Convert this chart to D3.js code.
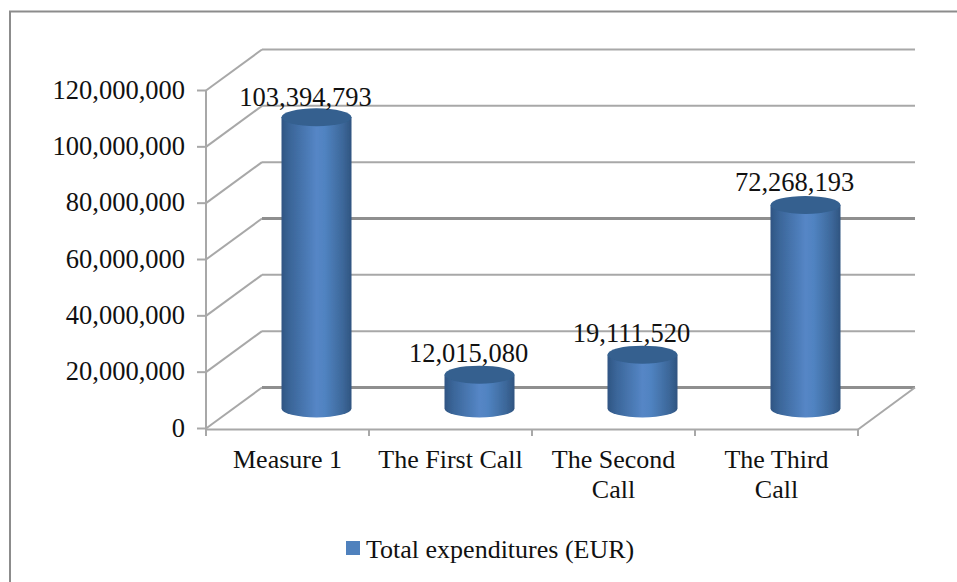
<!DOCTYPE html>
<html><head><meta charset="utf-8">
<script src="https://cdnjs.cloudflare.com/ajax/libs/d3/7.8.5/d3.min.js"></script>
<style>html,body{margin:0;padding:0;background:#fff}svg{display:block}text{font-family:"Liberation Serif",serif;fill:#111}</style>
</head><body><svg id="c" width="957" height="582"></svg>
<script>
const categories=[["Measure 1"],["The First Call"],["The Second","Call"],["The Third","Call"]];
const values=[103394793,12015080,19111520,72268193];
const valueLabels=["103,394,793","12,015,080","19,111,520","72,268,193"];
const ticks=[0,20000000,40000000,60000000,80000000,100000000,120000000];
const seriesName="Total expenditures (EUR)";

const W=957,H=582;
const svg=d3.select("#c");
const defs=svg.append("defs");
const g=defs.append("linearGradient").attr("id","cyl");
[[0,"#2f5583"],[.12,"#3a6598"],[.5,"#5586c6"],[.62,"#5083c1"],[.88,"#3c6799"],[1,"#2f5480"]].forEach(d=>g.append("stop").attr("offset",d[0]).attr("stop-color",d[1]));
defs.append("filter").attr("id","soft").append("feGaussianBlur").attr("stdDeviation",0.55);
defs.append("filter").attr("id","softT").append("feGaussianBlur").attr("stdDeviation",0.3);

const depthX=56,depthY=-41;
const y=d3.scaleLinear().domain([0,120000000]).range([428.5,90.5]);
const x=d3.scaleBand().domain(d3.range(categories.length)).range([206,858]);
const gridCol="#a8a8a8";

// chart frame
svg.append("path").attr("d",`M10,${H}V11.5H${W}`).attr("fill","none").attr("stroke","#8c8c8c").attr("stroke-width",2);

const p=svg.append("g").attr("filter","url(#soft)");
// back wall grid and side wall grid
ticks.forEach(t=>{
  const yy=y(t);
  p.append("line").attr("x1",206).attr("y1",yy).attr("x2",206+depthX).attr("y2",yy+depthY).attr("stroke",gridCol).attr("stroke-width",2);
  p.append("line").attr("x1",206+depthX).attr("y1",yy+depthY).attr("x2",858+depthX+1).attr("y2",yy+depthY)
   .attr("stroke",(t===0||t===60000000)?"#8f8f8f":gridCol).attr("stroke-width",(t===0||t===60000000)?3:2);
  p.append("line").attr("x1",197).attr("y1",yy).attr("x2",206).attr("y2",yy).attr("stroke",gridCol).attr("stroke-width",2);
});
// floor right edge, axes
p.append("line").attr("x1",858).attr("y1",429.5).attr("x2",858+depthX+1).attr("y2",y(0)+depthY).attr("stroke",gridCol).attr("stroke-width",2);
p.append("line").attr("x1",206).attr("y1",y(0)).attr("x2",206).attr("y2",y(120000000)).attr("stroke",gridCol).attr("stroke-width",2);
p.append("line").attr("x1",206).attr("y1",429.5).attr("x2",858).attr("y2",429.5).attr("stroke",gridCol).attr("stroke-width",2);
d3.range(categories.length+1).forEach(i=>{
  const xx=206+i*x.step();
  p.append("line").attr("x1",xx).attr("y1",429).attr("x2",xx).attr("y2",436).attr("stroke",gridCol).attr("stroke-width",2);
});

// cylinders
const rx=35,ry=9,baseDy=-20,cxOff=29;
const cyl=svg.append("g").attr("filter","url(#softT)");
values.forEach((v,i)=>{
  const cx=x(i)+x.bandwidth()/2+cxOff, by=y(0)+baseDy, ty=y(v)+baseDy;
  cyl.append("path").attr("fill","url(#cyl)")
   .attr("d",`M${cx-rx},${ty}V${by}A${rx},${ry} 0 0 0 ${cx+rx},${by}V${ty}Z`);
  cyl.append("ellipse").attr("cx",cx).attr("cy",ty).attr("rx",rx).attr("ry",ry).attr("fill","#34608f");
  // value label
  svg.append("text").attr("x",cx-11+(i===0?0:0)).attr("y",ty-(i===0?11:(i===3?14:(i===1?13:13)))).attr("text-anchor","middle").attr("font-size",26.5).text(valueLabels[i]);
});

// y tick labels
ticks.forEach(t=>{
  svg.append("text").attr("x",185).attr("y",y(t)+8).attr("text-anchor","end").attr("font-size",26.5).text(d3.format(",")(t));
});
// category labels
categories.forEach((c,i)=>{
  const cx=x(i)+x.bandwidth()/2;
  c.forEach((s,j)=>svg.append("text").attr("x",cx).attr("y",468+j*30).attr("text-anchor","middle").attr("font-size",26).text(s));
});
// legend
svg.append("rect").attr("x",346).attr("y",541).attr("width",14).attr("height",14).attr("fill","#4f81bd");
svg.append("text").attr("x",366).attr("y",558).attr("font-size",26).text(seriesName);
</script></body></html>
